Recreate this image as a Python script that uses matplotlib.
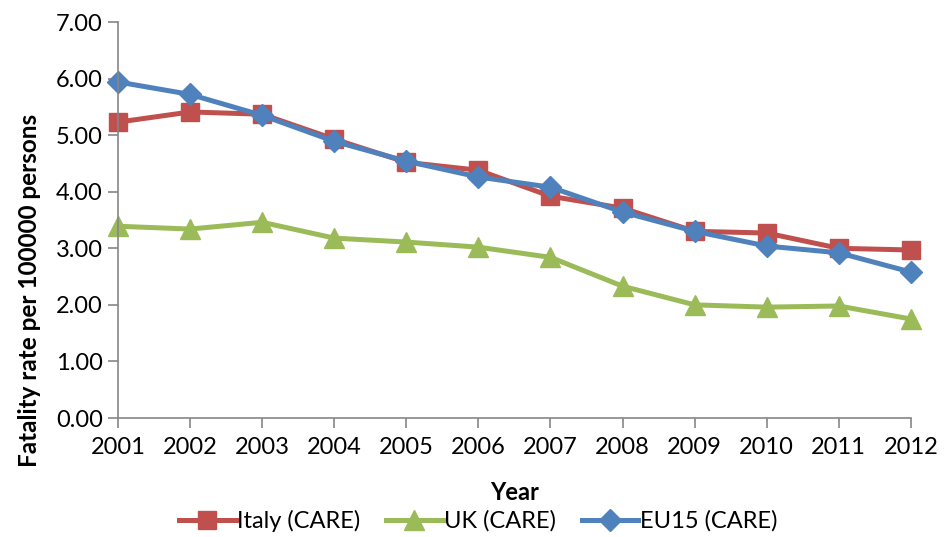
import matplotlib.pyplot as plt

years = [2001, 2002, 2003, 2004, 2005, 2006, 2007, 2008, 2009, 2010, 2011, 2012]
italy = [5.23, 5.41, 5.37, 4.93, 4.52, 4.38, 3.92, 3.71, 3.30, 3.27, 3.00, 2.97]
uk = [3.39, 3.34, 3.46, 3.18, 3.11, 3.02, 2.84, 2.33, 2.00, 1.96, 1.98, 1.75]
eu15 = [5.94, 5.72, 5.35, 4.89, 4.54, 4.26, 4.08, 3.64, 3.30, 3.04, 2.92, 2.58]

plt.rcParams['font.family'] = ['Lato', 'DejaVu Sans']

fig = plt.figure(figsize=(9.45, 5.37), dpi=100)
ax = fig.add_axes([0.1249, 0.2216, 0.839, 0.7374])

ax.plot(years, italy, color='#C0504D', linewidth=3.6, marker='s', markersize=13,
        label='Italy (CARE)')
ax.plot(years, uk, color='#9BBB59', linewidth=3.6, marker='^', markersize=14,
        label='UK (CARE)')
ax.plot(years, eu15, color='#4F81BD', linewidth=3.6, marker='D', markersize=11,
        label='EU15 (CARE)')

ax.set_xlim(2001, 2012)
ax.set_ylim(0, 7)
ax.set_xticks(years)
ax.set_yticks(range(0, 8))
ax.set_yticklabels([f'{v:.2f}' for v in range(0, 8)])
ax.tick_params(labelsize=17, color='#868686', length=7, width=1.2)
ax.tick_params(axis='x', pad=7)
ax.tick_params(axis='y', pad=4)
for side in ['top', 'right']:
    ax.spines[side].set_visible(False)
for side in ['left', 'bottom']:
    ax.spines[side].set_color('#868686')
    ax.spines[side].set_linewidth(1.2)
for ln in ax.get_lines():
    ln.set_clip_on(False)

fig.text(30 / 945, 1 - 290 / 537, 'Fatality rate per 100000 persons', rotation=90,
         ha='center', va='center', fontsize=17.5, fontweight='bold')
fig.text(515 / 945, 1 - 493 / 537, 'Year', ha='center', va='center',
         fontsize=17, fontweight='bold')

fig.legend(loc='center', bbox_to_anchor=(478 / 945, 1 - 521 / 537), ncol=3,
           frameon=False, fontsize=17, handlelength=2.4, handletextpad=0.05,
           columnspacing=1.1)

fig.savefig('out.png', dpi=100)
